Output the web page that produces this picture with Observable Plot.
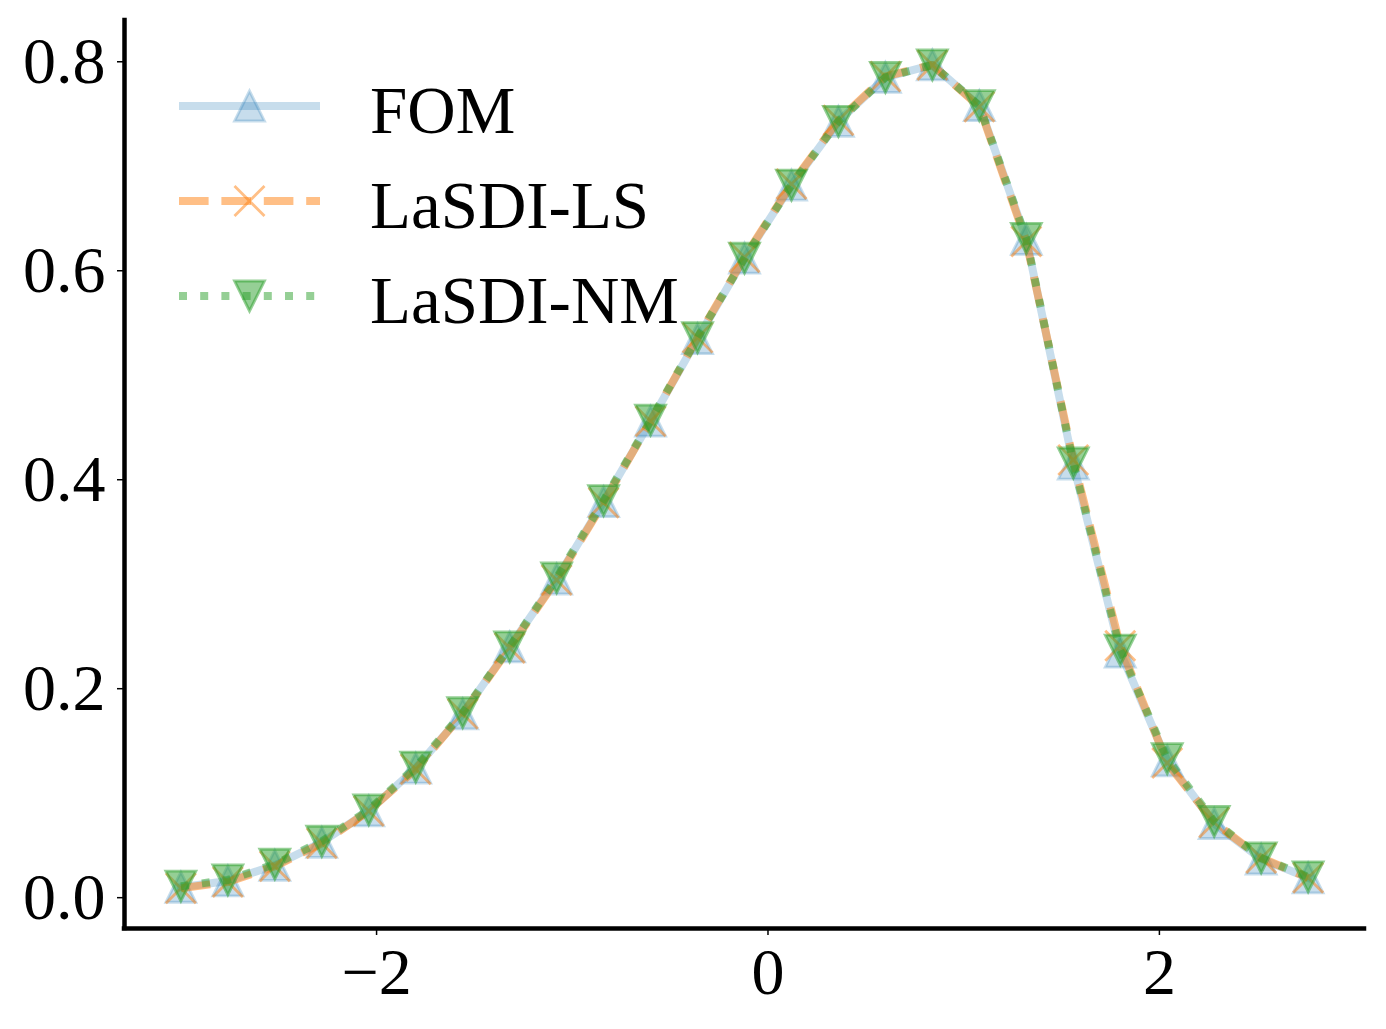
<!DOCTYPE html>
<html>
<head>
<meta charset="utf-8">
<script src="https://cdn.jsdelivr.net/npm/d3@7"></script>
<script src="https://cdn.jsdelivr.net/npm/@observablehq/plot@0.6"></script>
<style>
  body { margin: 0; background: #fff; }
  #wrap { position: relative; width: 1386px; height: 1029px; }
</style>
</head>
<body>
<div id="wrap"></div>
<script>
// ---- data ----
const xValues = [-3.00, -2.76, -2.52, -2.28, -2.04, -1.80, -1.56, -1.32, -1.08, -0.84, -0.60, -0.36, -0.12,
                  0.12,  0.36,  0.60,  0.84,  1.08,  1.32,  1.56,  1.80,  2.04,  2.28,  2.52,  2.76];
const fomValues = [0.010, 0.016, 0.031, 0.053, 0.083, 0.124, 0.176, 0.240, 0.305, 0.379, 0.456, 0.535, 0.612,
                   0.682, 0.743, 0.785, 0.797, 0.758, 0.630, 0.415, 0.235, 0.131, 0.071, 0.037, 0.019];
const lsValues  = [0.009, 0.015, 0.030, 0.052, 0.083, 0.123, 0.176, 0.239, 0.304, 0.378, 0.456, 0.536, 0.613,
                   0.683, 0.744, 0.786, 0.797, 0.757, 0.628, 0.419, 0.241, 0.129, 0.072, 0.038, 0.019];
const nmValues  = [0.011, 0.017, 0.032, 0.054, 0.084, 0.125, 0.177, 0.240, 0.306, 0.380, 0.457, 0.536, 0.612,
                   0.682, 0.743, 0.785, 0.797, 0.758, 0.631, 0.416, 0.237, 0.133, 0.073, 0.038, 0.020];
const seriesNames = ["FOM", "LaSDI-LS", "LaSDI-NM"];
const xTicks = [-2, 0, 2];
const yTicks = [0.0, 0.2, 0.4, 0.6, 0.8];

// ---- scales / layout ----
const xDomain = [-3.288, 3.048];
const yDomain = [-0.0295, 0.8395];
const W = 1386, H = 1029;
const mLeft = 124, mRight = 22, mTop = 20, mBottom = 101;
const fontFamily = "'Liberation Serif', 'Times New Roman', Times, serif";

// ---- marker symbols (centred on bounding box, like matplotlib) ----
const triUp = { draw(ctx, size) { const r = Math.sqrt(size / Math.PI);
  ctx.moveTo(0, -r); ctx.lineTo(r, r); ctx.lineTo(-r, r); ctx.closePath(); } };
const triDown = { draw(ctx, size) { const r = Math.sqrt(size / Math.PI);
  ctx.moveTo(0, r); ctx.lineTo(r, -r); ctx.lineTo(-r, -r); ctx.closePath(); } };
const xMark = { draw(ctx, size) { const r = Math.sqrt(size / Math.PI);
  ctx.moveTo(-r, -r); ctx.lineTo(r, r); ctx.moveTo(-r, r); ctx.lineTo(r, -r); } };

const styles = [
  { color: "#1f77b4", alpha: 0.25, dash: null, cap: "square", symbol: triUp, filled: true },
  { color: "#ff7f0e", alpha: 0.5, dash: "29.6,12.8", cap: "butt", symbol: xMark, filled: false },
  { color: "#2ca02c", alpha: 0.5, dash: "8,13.2", cap: "butt", symbol: triDown, filled: true }
];
const lineWidth = 8, markerR = 15, edgeWidth = 2.8;

const valueSets = [fomValues, lsValues, nmValues];
const seriesData = valueSets.map((vals, k) => xValues.map((x, i) => ({ series: seriesNames[k], x, y: vals[i] })));

const seriesMarks = seriesData.flatMap((data, k) => {
  const s = styles[k];
  return [
    Plot.line(data, { x: "x", y: "y", stroke: s.color, strokeOpacity: s.alpha, strokeWidth: lineWidth,
      strokeDasharray: s.dash, strokeLinecap: s.cap, strokeLinejoin: "round" }),
    Plot.dot(data, { x: "x", y: "y", r: markerR, symbol: s.symbol,
      fill: s.filled ? s.color : "none", fillOpacity: s.alpha,
      stroke: s.color, strokeOpacity: s.alpha, strokeWidth: edgeWidth })
  ];
});

const fmtX = d => (d < 0 ? "\u2212" + Math.abs(d) : String(d));

const chart = Plot.plot({
  width: W, height: H,
  marginLeft: mLeft, marginRight: mRight, marginTop: mTop, marginBottom: mBottom,
  x: { domain: xDomain, label: null },
  y: { domain: yDomain, label: null },
  style: { fontFamily, fontSize: "66px", background: "white", color: "black", overflow: "visible" },
  marks: [
    Plot.axisX({ ticks: xTicks, tickFormat: fmtX, tickSize: 7, tickPadding: 12, strokeWidth: 1.5, label: null, fontSize: 66 }),
    Plot.axisY({ ticks: yTicks, tickFormat: d3.format(".1f"), tickSize: 7, tickPadding: 12, strokeWidth: 1.5, label: null, fontSize: 66 }),
    ...seriesMarks,
    Plot.ruleX([xDomain[0]], { stroke: "black", strokeWidth: 4.5, strokeLinecap: "square" }),
    Plot.ruleY([yDomain[0]], { stroke: "black", strokeWidth: 4.5, strokeLinecap: "square" })
  ]
});
document.getElementById("wrap").appendChild(chart);

// ---- legend (overlay, upper left inside axes) ----
const leg = d3.select("#wrap").append("svg")
  .attr("width", W).attr("height", H)
  .style("position", "absolute").style("left", "0px").style("top", "0px")
  .style("pointer-events", "none");
const legRowY = [106, 201, 296];
const legLineX = [179, 320];
const legTextX = 370;
seriesNames.forEach((name, k) => {
  const s = styles[k];
  const y = legRowY[k];
  leg.append("line")
    .attr("x1", legLineX[0] + (s.cap === "square" ? lineWidth / 2 : 0))
    .attr("x2", legLineX[1] - (s.cap === "square" ? lineWidth / 2 : 0))
    .attr("y1", y).attr("y2", y)
    .attr("stroke", s.color).attr("stroke-opacity", s.alpha).attr("stroke-width", lineWidth)
    .attr("stroke-dasharray", s.dash).attr("stroke-linecap", s.cap);
  const p = d3.path();
  s.symbol.draw(p, markerR * markerR * Math.PI);
  leg.append("path")
    .attr("transform", `translate(${(legLineX[0] + legLineX[1]) / 2},${y})`)
    .attr("d", p.toString())
    .attr("fill", s.filled ? s.color : "none").attr("fill-opacity", s.alpha)
    .attr("stroke", s.color).attr("stroke-opacity", s.alpha).attr("stroke-width", edgeWidth);
  leg.append("text")
    .attr("x", legTextX).attr("y", y).attr("dy", "0.4em")
    .attr("font-family", fontFamily).attr("font-size", 67).attr("fill", "black")
    .text(name);
});
</script>
</body>
</html>
